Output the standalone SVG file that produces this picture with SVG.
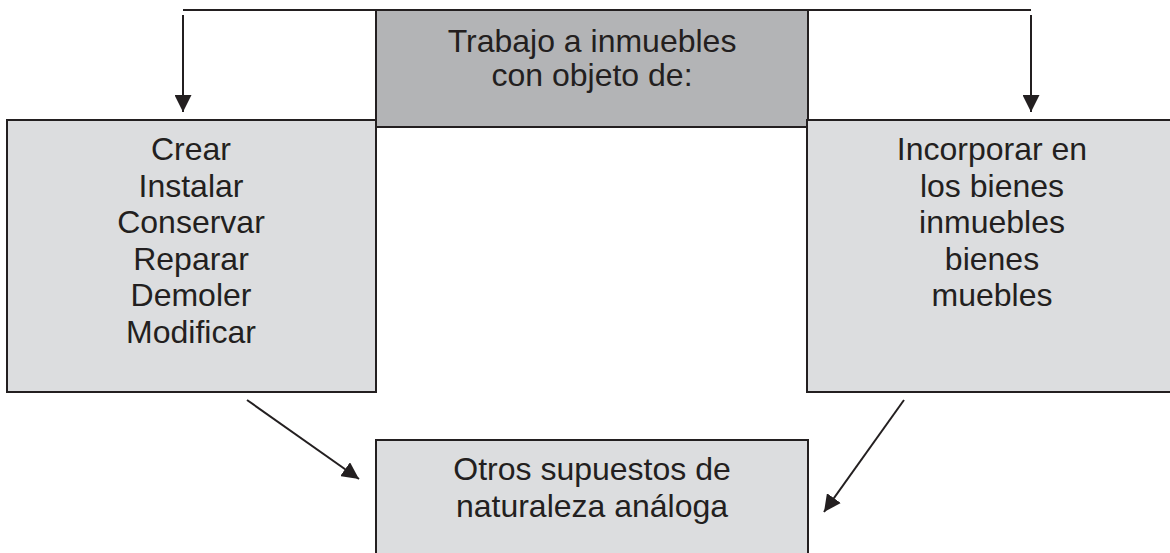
<svg xmlns="http://www.w3.org/2000/svg" width="1170" height="553" viewBox="0 0 1170 553">
<style>
  .box { stroke: #231f20; stroke-width: 2; }
  .light { fill: #dcdddf; }
  .dark { fill: #b3b4b6; }
  .lbl { font-family: "Liberation Sans", Arial, sans-serif; font-size: 32px; fill: #231f20; text-anchor: middle; }
  .conn { stroke: #231f20; stroke-width: 2; fill: none; }
</style>
<defs>
  <marker id="ah" markerUnits="userSpaceOnUse" markerWidth="17" markerHeight="17" viewBox="0 0 17 17" refX="17" refY="8.5" orient="auto">
    <path d="M0,0 L17,8.5 L0,17 Z" fill="#231f20"/>
  </marker>
</defs>
<rect width="1170" height="553" fill="#ffffff"/>
<g id="node-top">
  <rect class="box dark" x="376" y="10" width="432" height="117"/>
  <text class="lbl" x="592" y="52">Trabajo a inmuebles</text>
  <text class="lbl" x="592" y="86">con objeto de:</text>
</g>
<g id="node-left">
  <rect class="box light" x="7" y="120" width="369" height="272"/>
  <text class="lbl" x="191" y="160">Crear</text>
  <text class="lbl" x="191" y="196.5">Instalar</text>
  <text class="lbl" x="191" y="233">Conservar</text>
  <text class="lbl" x="191" y="269.5">Reparar</text>
  <text class="lbl" x="191" y="306">Demoler</text>
  <text class="lbl" x="191" y="342.5">Modificar</text>
</g>
<g id="node-right">
  <rect class="box light" x="807" y="120" width="370" height="272"/>
  <text class="lbl" x="992" y="160">Incorporar en</text>
  <text class="lbl" x="992" y="196.5">los bienes</text>
  <text class="lbl" x="992" y="233">inmuebles</text>
  <text class="lbl" x="992" y="269.5">bienes</text>
  <text class="lbl" x="992" y="306">muebles</text>
</g>
<g id="node-bottom">
  <rect class="box light" x="376" y="440" width="432" height="120"/>
  <text class="lbl" x="592" y="480">Otros supuestos de</text>
  <text class="lbl" x="592" y="517">naturaleza análoga</text>
</g>
<g id="connectors">
  <line class="conn" x1="183" y1="10" x2="376" y2="10"/>
  <line class="conn" x1="183" y1="15" x2="183" y2="112" marker-end="url(#ah)"/>
  <line class="conn" x1="808" y1="10" x2="1031" y2="10"/>
  <line class="conn" x1="1031" y1="15" x2="1031" y2="112" marker-end="url(#ah)"/>
  <line class="conn" x1="247" y1="400" x2="359" y2="479" marker-end="url(#ah)"/>
  <line class="conn" x1="904" y1="400" x2="824" y2="512" marker-end="url(#ah)"/>
</g>
</svg>
